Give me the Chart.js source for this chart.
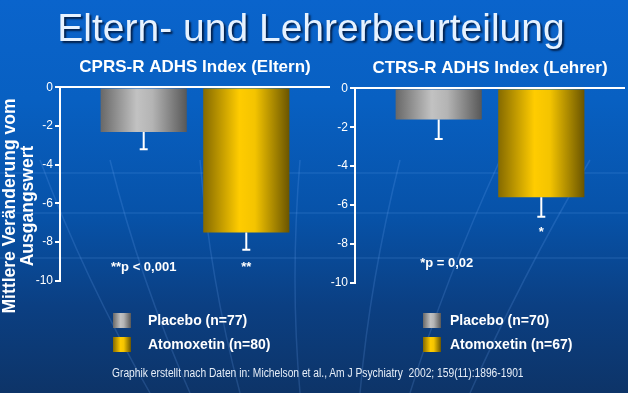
<!DOCTYPE html>
<html>
<head>
<meta charset="utf-8">
<script src="https://cdn.jsdelivr.net/npm/chart.js@4.4.1/dist/chart.umd.min.js"></script>
<style>
  html, body { margin: 0; padding: 0; }
  body {
    width: 628px; height: 393px; overflow: hidden; position: relative;
    font-family: "Liberation Sans", Arial, sans-serif;
    background: linear-gradient(to bottom, #0a64cc 0%, #0860c2 25%, #0752a8 55%, #0b3f82 78%, #0d3468 100%);
  }
  #bg { position: absolute; left: 0; top: 0; }
  .abs { position: absolute; }
  #title {
    left: 0; width: 622px; top: 6px; text-align: center;
    font-size: 39px; color: #e6f2ff; text-shadow: 2px 2px 2px #03204a;
  }
  #ytitle {
    left: -102px; top: 188px; width: 240px; text-align: center;
    transform: rotate(-90deg); color: #fff; font-weight: bold;
    font-size: 17.5px; line-height: 18px;
  }
  .leg { font-weight: bold; font-size: 14px; color: #fff; }
  .leg .row { position: relative; height: 24px; }
  .leg .box { position: absolute; top: 1px; width: 18px; height: 15px; }
  .leg .txt { position: absolute; top: 0; white-space: nowrap; }
  #foot {
    left: 112px; top: 366px; font-size: 12px; color: #e6eef8; white-space: nowrap;
    transform: scaleX(0.855); transform-origin: left center;
  }
</style>
</head>
<body>
<canvas id="bg" width="628" height="393"></canvas>
<div id="title" class="abs">Eltern- und Lehrerbeurteilung</div>
<div id="ytitle" class="abs">Mittlere Veränderung vom<br>Ausgangswert</div>
<div class="abs" style="left:30px; top:57px; width:300px; height:233px;"><canvas id="chartEltern"></canvas></div>
<div class="abs" style="left:325px; top:58px; width:300px; height:234px;"><canvas id="chartLehrer"></canvas></div>
<div id="legEltern" class="abs leg" style="left:113px; top:312px;"></div>
<div id="legLehrer" class="abs leg" style="left:423px; top:312px;"></div>
<div id="foot" class="abs">Graphik erstellt nach Daten in: Michelson et al., Am J Psychiatry&nbsp; 2002; 159(11):1896-1901</div>

<script>
// --- data ---
const gruppen = ['Placebo', 'Atomoxetin'];
const elternN = [77, 80];
const lehrerN = [70, 67];
const elternWerte = [-2.3, -7.5];
const elternFehler = [0.9, 0.9];
const lehrerWerte = [-1.6, -5.6];
const lehrerFehler = [1.0, 1.0];
const yTicks = [0, -2, -4, -6, -8, -10];
const elternNotizen = ['**p < 0,001', '**'];
const lehrerNotizen = ['*p = 0,02', '*'];

// Farbverlauf der Balken (links dunkel, Mitte hell, rechts dunkel)
const verlauf = [
  [[0, '#686868'], [0.42, '#c2c2c2'], [0.6, '#b4b4b4'], [1, '#585858']],
  [[0, '#856a00'], [0.42, '#ffcc00'], [0.6, '#f4c400'], [1, '#6a5500']]
];
const flach = ['#a0a0a0', '#e0b400'];

// faint globe lines in background (decoration only)
(function () {
  const c = document.getElementById('bg').getContext('2d');
  c.strokeStyle = 'rgba(120,180,255,0.15)';
  c.lineWidth = 1.5;
  [173, 213, 258].forEach(y => { c.beginPath(); c.moveTo(0, y); c.lineTo(628, y); c.stroke(); });
  c.strokeStyle = 'rgba(120,180,255,0.18)';
  [[40, 150], [110, 190], [200, 240], [300, 300], [400, 360], [500, 410], [590, 470]].forEach(([top, bot]) => {
    c.beginPath();
    c.moveTo(top, 160);
    c.quadraticCurveTo((top + bot) / 2 - 10, 280, bot, 393);
    c.stroke();
  });
})();

function balkenFarbe(i) {
  return function (ctx) {
    const el = ctx.element;
    if (!el || el.x === undefined || isNaN(el.x)) return flach[i];
    const x0 = el.x - el.width / 2, x1 = el.x + el.width / 2;
    const g = ctx.chart.ctx.createLinearGradient(x0, 0, x1, 0);
    verlauf[i].forEach(s => g.addColorStop(s[0], s[1]));
    return g;
  };
}

// error bars + p-value texts
const extras = {
  id: 'extras',
  afterDatasetsDraw(chart, args, opts) {
    const c = chart.ctx, y = chart.scales.y;
    c.save();
    chart.data.datasets.forEach((ds, i) => {
      const el = chart.getDatasetMeta(i).data[0];
      const v = ds.data[0], e = opts.fehler[i];
      const yTop = y.getPixelForValue(v), yBot = y.getPixelForValue(v - e);
      c.strokeStyle = '#fff';
      c.lineWidth = 2;
      c.beginPath();
      c.moveTo(el.x, yTop); c.lineTo(el.x, yBot);
      c.moveTo(el.x - 4, yBot); c.lineTo(el.x + 4, yBot);
      c.stroke();
      c.fillStyle = '#fff';
      c.font = 'bold 13px "Liberation Sans", Arial, sans-serif';
      c.textAlign = 'center';
      c.textBaseline = 'middle';
      c.fillText(opts.notizen[i], el.x + opts.dx[i], y.getPixelForValue(opts.notizY[i]));
    });
    c.restore();
  }
};

function baueChart(id, titel, werte, fehler, notizen, notizY, dx) {
  return new Chart(document.getElementById(id), {
    type: 'bar',
    data: {
      labels: [''],
      datasets: gruppen.map((g, i) => ({
        label: g,
        data: [werte[i]],
        backgroundColor: balkenFarbe(i),
        borderWidth: 0,
        categoryPercentage: 0.76,
        barPercentage: 0.84
      }))
    },
    options: {
      responsive: true,
      maintainAspectRatio: false,
      animation: false,
      layout: { padding: 0 },
      plugins: {
        legend: { display: false },
        tooltip: { enabled: false },
        title: {
          display: true,
          text: titel,
          fullSize: false,
          color: '#fff',
          font: { family: '"Liberation Sans", Arial, sans-serif', size: 17, weight: 'bold' },
          padding: { top: 0, bottom: 10 }
        },
        extras: { fehler: fehler, notizen: notizen, notizY: notizY, dx: dx }
      },
      scales: {
        x: { display: false },
        y: {
          min: -10, max: 0,
          afterBuildTicks: s => { s.ticks = yTicks.map(v => ({ value: v })); },
          afterFit: s => { s.width = 30; },
          border: { color: '#fff', width: 2 },
          grid: {
            color: c => c.tick && c.tick.value === 0 ? '#fff' : 'rgba(0,0,0,0)',
            lineWidth: 2,
            tickColor: '#fff',
            tickLength: 5,
            drawTicks: true
          },
          ticks: {
            color: '#fff',
            padding: 2,
            font: { family: '"Liberation Sans", Arial, sans-serif', size: 12 }
          }
        }
      }
    },
    plugins: [extras]
  });
}

const c1 = baueChart('chartEltern', 'CPRS-R ADHS Index (Eltern)', elternWerte, elternFehler,
  elternNotizen, [-9.3, -9.3], [0, 0]);
const c2 = baueChart('chartLehrer', 'CTRS-R ADHS Index (Lehrer)', lehrerWerte, lehrerFehler,
  lehrerNotizen, [-9.0, -7.4], [8, 0]);
// zweites Update, damit die Verlaufsfarben die Balkenposition kennen
c1.update();
c2.update();

// --- Legenden ---
function baueLegende(id, nListe, textLeft) {
  const box = document.getElementById(id);
  gruppen.forEach((g, i) => {
    const stops = verlauf[i].map(s => `${s[1]} ${s[0] * 100}%`).join(', ');
    box.innerHTML += `<div class="row"><div class="box" style="background:linear-gradient(to right, ${stops})"></div>` +
      `<div class="txt" style="left:${textLeft}px">${g} (n=${nListe[i]})</div></div>`;
  });
}
baueLegende('legEltern', elternN, 35);
baueLegende('legLehrer', lehrerN, 27);
</script>
</body>
</html>
